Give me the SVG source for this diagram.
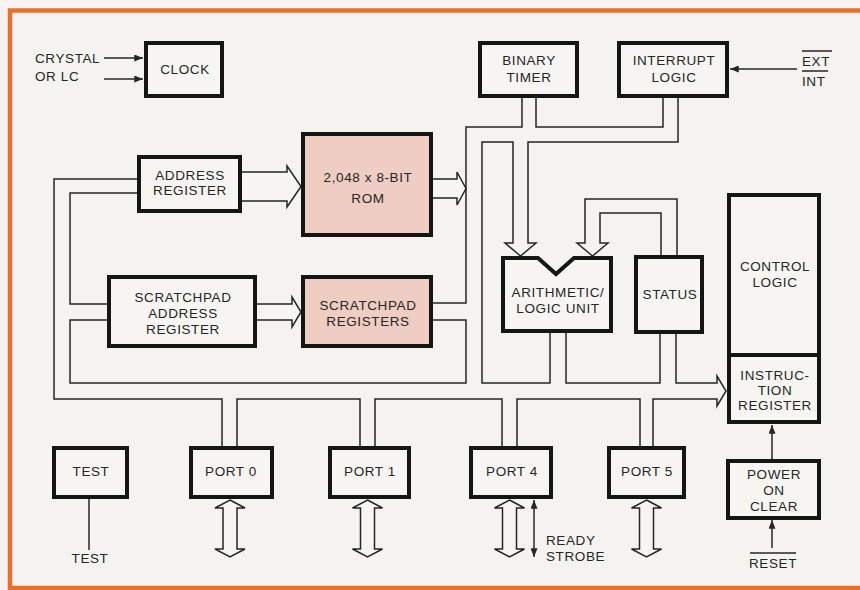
<svg xmlns="http://www.w3.org/2000/svg" width="860" height="590" viewBox="0 0 860 590">
<defs>
<style>
.bg{fill:#f4f3f0}
.frame{fill:none;stroke:#e8702a;stroke-width:4.5}
.box{fill:#f6f5f2;stroke:#151515;stroke-width:4}
.pink{fill:#efcdc2}
.ln{fill:none;stroke:#262626;stroke-width:1.5}
.hl{fill:#f6f5f2;stroke:#262626;stroke-width:1.5}
.t{font-family:"Liberation Sans",Arial,sans-serif;font-size:13.5px;fill:#262626;letter-spacing:0.6px;text-anchor:middle}
.ts{font-family:"Liberation Sans",Arial,sans-serif;font-size:13.5px;fill:#262626;letter-spacing:0.6px;text-anchor:start}
</style>
<marker id="ah" viewBox="0 0 10 8" refX="10" refY="4" markerWidth="9" markerHeight="7" markerUnits="userSpaceOnUse" orient="auto-start-reverse">
<path d="M0,0 L10,4 L0,8 z" fill="#262626"/>
</marker>
</defs>
<rect class="bg" x="0" y="0" width="860" height="590"/>
<path class="frame" d="M10,590 V10.5 H862"/>
<path class="frame" d="M10,588 H862"/>

<g id="connectors">
<path class="ln" d="M104,58 H143" marker-end="url(#ah)"/>
<path class="ln" d="M104,79 H143" marker-end="url(#ah)"/>
<path class="ln" d="M797,69 H730" marker-end="url(#ah)"/>
<path class="hl" d="M242,172 H287 V166 L301,186.5 L287,207 V201 H242"/>
<path class="hl" d="M257,304 H292 V297 L301,312 L292,327 V320 H257"/>
<path class="hl" d="M433,179 H457 V172 L466,188.5 L457,205 V198 H433"/>
<path class="ln" d="M522,98 V127 H466 V303 H433"/>
<path class="ln" d="M536,98 V127 H663 V98"/>
<path class="ln" d="M678,98 V142 H528 V243 H536 L520.5,256 L505,243 H513 V142 H482 V383 H550 V333"/>
<path class="ln" d="M661,257 V213 H600 V243 H608 L592.5,256 L577,243 H585 V199 H677 V257"/>
<path class="ln" d="M566,333 V383 H660 V333"/>
<path class="ln" d="M676,333 V383 H717 V376 L726,391 L717,406 V399 H653 V448"/>
<path class="ln" d="M640,448 V399 H517 V448"/>
<path class="ln" d="M502,448 V399 H375 V448"/>
<path class="ln" d="M360,448 V399 H237 V448"/>
<path class="ln" d="M222,448 V399 H54 V179 H139"/>
<path class="ln" d="M139,193 H70 V304 H109"/>
<path class="ln" d="M109,320 H70 V383 H466 V320 H433"/>
<path class="hl" d="M230,500 L245,508 H237 V549 H245 L230,557 L215,549 H223 V508 H215 Z"/>
<path class="hl" d="M367.5,500 L382.5,508 H374.5 V549 H382.5 L367.5,557 L352.5,549 H360.5 V508 H352.5 Z"/>
<path class="hl" d="M509.5,500 L524.5,508 H516.5 V549 H524.5 L509.5,557 L494.5,549 H502.5 V508 H494.5 Z"/>
<path class="hl" d="M646.5,500 L661.5,508 H653.5 V549 H661.5 L646.5,557 L631.5,549 H639.5 V508 H631.5 Z"/>
<path class="ln" d="M534,500 V557" marker-start="url(#ah)" marker-end="url(#ah)"/>
<path class="ln" d="M89,499 V550"/>
<path class="ln" d="M772,459 V425" marker-end="url(#ah)"/>
<path class="ln" d="M772,548 V520" marker-end="url(#ah)"/>
</g>

<g id="crystal-label">
<text class="ts" x="35" y="63">CRYSTAL</text>
<text class="ts" x="35" y="81">OR LC</text>
</g>
<g id="ext-int-label">
<text class="ts" x="802" y="66">EXT</text>
<text class="ts" x="802" y="86">INT</text>
<path class="ln" d="M802,51 H832 M802,71 H828"/>
</g>

<g id="clock">
<rect class="box" x="146" y="43" width="76" height="53"/>
<text class="t" x="185" y="74">CLOCK</text>
</g>
<g id="binary-timer">
<rect class="box" x="480" y="43" width="97" height="53"/>
<text class="t" x="529" y="65">BINARY</text>
<text class="t" x="529" y="82">TIMER</text>
</g>
<g id="interrupt-logic">
<rect class="box" x="619" y="43" width="108" height="53"/>
<text class="t" x="674" y="65">INTERRUPT</text>
<text class="t" x="674" y="82">LOGIC</text>
</g>
<g id="address-register">
<rect class="box" x="139" y="157" width="101" height="54"/>
<text class="t" x="190" y="180">ADDRESS</text>
<text class="t" x="190" y="195">REGISTER</text>
</g>
<g id="rom">
<rect class="box pink" x="303" y="134" width="128" height="101"/>
<text class="t" x="368" y="182">2,048 x 8-BIT</text>
<text class="t" x="368" y="203">ROM</text>
</g>
<g id="scratchpad-address-register">
<rect class="box" x="109" y="277" width="146" height="69"/>
<text class="t" x="183" y="302">SCRATCHPAD</text>
<text class="t" x="183" y="318">ADDRESS</text>
<text class="t" x="183" y="334">REGISTER</text>
</g>
<g id="scratchpad-registers">
<rect class="box pink" x="303" y="277" width="128" height="69"/>
<text class="t" x="368" y="310">SCRATCHPAD</text>
<text class="t" x="368" y="326">REGISTERS</text>
</g>
<g id="alu">
<path class="box" d="M503,258 H538 L556,274 L574,258 H611 V331 H503 Z"/>
<text class="t" x="558" y="297">ARITHMETIC/</text>
<text class="t" x="558" y="313">LOGIC UNIT</text>
</g>
<g id="status">
<rect class="box" x="636" y="257" width="66" height="75"/>
<text class="t" x="670" y="299">STATUS</text>
</g>
<g id="control-logic">
<rect class="box" x="729" y="195" width="90" height="160"/>
<text class="t" x="775" y="271">CONTROL</text>
<text class="t" x="775" y="287">LOGIC</text>
</g>
<g id="instruction-register">
<rect class="box" x="729" y="355" width="90" height="67"/>
<text class="t" x="775" y="380">INSTRUC-</text>
<text class="t" x="775" y="395">TION</text>
<text class="t" x="775" y="410">REGISTER</text>
</g>
<g id="power-on-clear">
<rect class="box" x="728" y="461" width="91" height="57"/>
<text class="t" x="774" y="479">POWER</text>
<text class="t" x="774" y="495">ON</text>
<text class="t" x="774" y="511">CLEAR</text>
</g>
<g id="test">
<rect class="box" x="54" y="448" width="73" height="49"/>
<text class="t" x="91" y="476">TEST</text>
</g>
<g id="port-0">
<rect class="box" x="191" y="448" width="81" height="49"/>
<text class="t" x="231" y="476">PORT 0</text>
</g>
<g id="port-1">
<rect class="box" x="330" y="448" width="79" height="49"/>
<text class="t" x="370" y="476">PORT 1</text>
</g>
<g id="port-4">
<rect class="box" x="471" y="448" width="80" height="49"/>
<text class="t" x="512" y="476">PORT 4</text>
</g>
<g id="port-5">
<rect class="box" x="609" y="448" width="75" height="49"/>
<text class="t" x="647" y="476">PORT 5</text>
</g>
<g id="bottom-labels">
<text class="t" x="90" y="563">TEST</text>
<text class="ts" x="546" y="545">READY</text>
<text class="ts" x="546" y="561">STROBE</text>
<text class="t" x="773" y="568">RESET</text>
<path class="ln" d="M750,553 H796"/>
</g>
</svg>
